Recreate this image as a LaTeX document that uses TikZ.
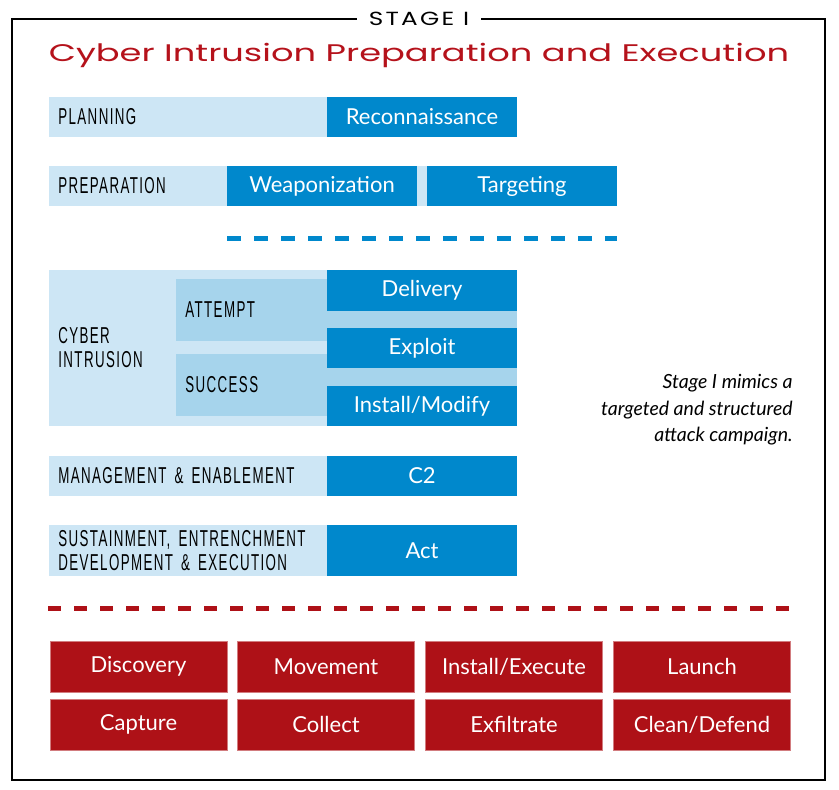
\documentclass[tikz,border=0pt]{standalone}
\usepackage{fontspec}
\setmainfont{Lato}
\newfontfamily\boxfont{Lato}
\newfontfamily\capsfont[FakeStretch=0.58, LetterSpace=6, WordSpace=1.6]{Liberation Sans}
\newfontfamily\techfont[FakeStretch=1.47]{Poppins}
\newfontfamily\stagefont[FakeStretch=1.3, LetterSpace=12]{Poppins}

\definecolor{paleblue}{RGB}{205, 230, 245}
\definecolor{midblue}{RGB}{166, 212, 236}
\definecolor{deepblue}{RGB}{0, 136, 204}
\definecolor{deepred}{RGB}{174, 17, 23}
\definecolor{titlered}{RGB}{181, 18, 27}

\begin{document}
\begin{tikzpicture}[x = 1pt, y = -1pt, thick,
  lightbar/.style = {fill = paleblue, inner sep = 0, minimum height = 40pt},
  midbar/.style = {fill = midblue, inner sep = 0, minimum width = 341pt, minimum height = 62pt},
  bluebox/.style = {fill = deepblue, text = white, inner sep = 0, minimum width = 190pt,
    minimum height = 40pt, font = \boxfont\fontsize{22}{26}\selectfont},
  redbox/.style = {fill = deepred, draw = deepred!55, line width = 1pt, text = white, inner sep = 0,
    minimum width = 177pt, minimum height = 51pt, font = \boxfont\fontsize{22}{26}\selectfont},
  rowlabel/.style = {anchor = west, inner sep = 0, align = left,
    font = \capsfont\fontsize{23}{24}\selectfont}]
\useasboundingbox (0, 0) rectangle (839, 790);

% Frame and titles
\draw[line width = 2pt] (12, 19) rectangle (825, 780);
\node[fill = white, inner xsep = 12pt, inner ysep = 2pt, font = \stagefont\fontsize{19}{22}\selectfont] (stage) at (419, 19) {STAGE I};
\node[text = titlered, inner sep = 0, font = \techfont\fontsize{24}{28}\selectfont] (title) at (419, 55) {Cyber Intrusion Preparation and Execution};

% Planning
\node[lightbar, minimum width = 278pt] (planbar) at (188, 117) {};
\node[bluebox] (recon) at (422, 117) {Reconnaissance};
\node[rowlabel] (planlabel) at (58, 117) {PLANNING};

% Preparation
\node[lightbar, minimum width = 568pt] (prepbar) at (333, 186) {};
\node[bluebox] (weapon) at (322, 186) {Weaponization};
\node[bluebox] (target) at (522, 186) {Targeting};
\node[rowlabel] (preplabel) at (58, 186) {PREPARATION};

% Blue dashes
\draw[deepblue, line width = 5pt, dash pattern = on 14pt off 13pt] (227, 238) -- (617, 238);

% Cyber intrusion
\node[lightbar, minimum width = 468pt, minimum height = 156pt] (cyberbar) at (283, 348) {};
\node[midbar] (attempt) at (346.5, 310) {};
\node[midbar] (success) at (346.5, 385) {};
\node[bluebox, minimum height = 41pt] (delivery) at (422, 290.5) {Delivery};
\node[bluebox] (exploit) at (422, 348) {Exploit};
\node[bluebox] (install) at (422, 406) {Install/Modify};
\node[rowlabel] (cyberlabel) at (58, 348) {CYBER\\INTRUSION};
\node[rowlabel] (attemptlabel) at (185, 310) {ATTEMPT};
\node[rowlabel] (successlabel) at (185, 385) {SUCCESS};

% Management
\node[lightbar, minimum width = 278pt] (mgmtbar) at (188, 476) {};
\node[bluebox] (ctwo) at (422, 476) {C2};
\node[rowlabel] (mgmtlabel) at (58, 476) {MANAGEMENT \& ENABLEMENT};

% Sustainment
\node[lightbar, minimum width = 278pt, minimum height = 51pt] (sustbar) at (188, 550.5) {};
\node[bluebox, minimum height = 51pt] (act) at (422, 550.5) {Act};
\node[rowlabel] (sustlabel) at (58, 550.5) {SUSTAINMENT, ENTRENCHMENT\\DEVELOPMENT \& EXECUTION};

% Side note
\node[anchor = east, align = right, inner sep = 0, font = \itshape\fontsize{19.5}{26.5}\selectfont] (note) at (793, 410)
  {Stage I mimics a\\targeted and structured\\attack campaign.};

% Red dashes
\draw[deepred, line width = 5pt, dash pattern = on 13pt off 13pt] (48, 608) -- (792, 608);

% Execution boxes
\node[redbox] (discovery) at (138.5, 666.5) {Discovery};
\node[redbox] (movement) at (326, 666.5) {Movement};
\node[redbox] (execute) at (514, 666.5) {Install/Execute};
\node[redbox] (launch) at (702, 666.5) {Launch};
\node[redbox] (capture) at (138.5, 724.5) {Capture};
\node[redbox] (collect) at (326, 724.5) {Collect};
\node[redbox] (exfil) at (514, 724.5) {Exfiltrate};
\node[redbox] (clean) at (702, 724.5) {Clean/Defend};
\end{tikzpicture}
\end{document}
